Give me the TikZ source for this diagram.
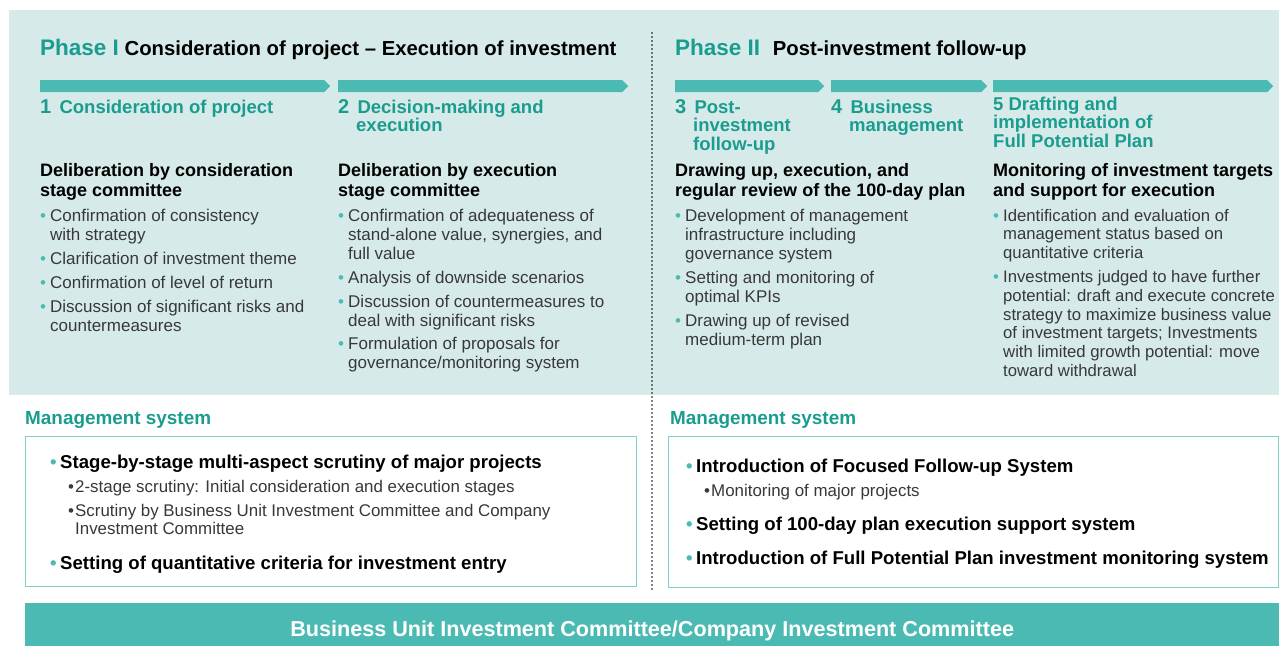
\documentclass[tikz,border=0pt]{standalone}
\usepackage{fontspec}
\setmainfont{Liberation Sans}
\usetikzlibrary{positioning, shapes.symbols, calc}

\definecolor{panelbg}{HTML}{D6EBE9}
\definecolor{barteal}{HTML}{4ABAB3}
\definecolor{headteal}{HTML}{1A9C8F}
\definecolor{bodygray}{HTML}{383838}
\definecolor{boxline}{HTML}{80CFC8}

\newcommand{\fs}[2]{\fontsize{#1}{#2}\selectfont}
\newcommand{\txtrows}[1]{\begin{tabular}[t]{@{}l@{}}#1\end{tabular}}
\newcommand{\tdot}{\makebox[10pt][l]{\textcolor{barteal}{\textbullet}}}
\newcommand{\tind}{\hspace*{10pt}}
\newcommand{\kdot}{\makebox[7pt][l]{\textbullet}}

\begin{document}
\begin{tikzpicture}[x=1pt, y=-1pt,
			% --- Styles ---
			phasehead/.style={anchor=base west, inner sep=0pt, font=\bfseries\fs{20.3}{22}},
			stagebar/.style={
				signal, signal to=east, signal pointer angle=90, fill=barteal, draw=none,
				inner sep=0pt, minimum height=12pt, anchor=north west
			},
			stephead/.style={anchor=base west, inner sep=0pt, text=headteal, font=\bfseries\fs{18.5}{18.5}},
			subhead/.style={anchor=base west, inner sep=0pt, font=\bfseries\fs{18}{20}},
			bodylist/.style={anchor=base west, inner sep=0pt, text=bodygray, font=\fs{17}{19}},
			mgmthead/.style={anchor=base west, inner sep=0pt, text=headteal, font=\bfseries\fs{18.9}{20}},
			mgmtbox/.style={draw=boxline, line width=1.2pt, fill=white, anchor=north west, inner sep=0pt},
			boldpoint/.style={anchor=base west, inner sep=0pt, font=\bfseries\fs{18.6}{20}},
			subpoint/.style={anchor=base west, inner sep=0pt, text=bodygray, font=\fs{16.9}{18}},
			divider/.style={line width=1.7pt, dash pattern=on 0pt off 4pt, line cap=round}
			]
			\useasboundingbox (0,0) rectangle (1279,645);
			
			% --- Panel background ---
			\fill[panelbg] (9,10) rectangle (1279,395);
			
			% --- Phase headings ---
			\node[phasehead] (phase1) at (40,55) {{\color{headteal}\fs{22.5}{22}Phase I} Consideration of project – Execution of investment};
			\node[phasehead] (phase2) at (675,55) {{\color{headteal}\fs{22.5}{22}Phase II}\hspace{7pt} Post-investment follow-up};
			
			% --- Stage bars ---
			\node[stagebar, minimum width=290pt] (bar1) at (40,80) {};
			\node[stagebar, minimum width=290pt] (bar2) at (338,80) {};
			\node[stagebar, minimum width=149pt] (bar3) at (675,80) {};
			\node[stagebar, minimum width=156pt] (bar4) at (831,80) {};
			\node[stagebar, minimum width=280pt] (bar5) at (993,80) {};
			
			% --- Stage titles ---
			\node[stephead] (step1) at (40,113) {{\fs{20}{20}1}\, Consideration of project};
			\node[stephead] (step2) at (338,113) {\txtrows{{\fs{20}{20}2}\, Decision-making and\\\hspace*{18pt}execution}};
			\node[stephead] (step3) at (675,113) {\txtrows{{\fs{20}{20}3}\, Post-\\\hspace*{18pt}investment\\\hspace*{18pt}follow-up}};
			\node[stephead] (step4) at (831,113) {\txtrows{{\fs{20}{20}4}\, Business\\\hspace*{18pt}management}};
			\node[stephead] (step5) at (993,110) {\txtrows{5 Drafting and\\implementation of\\Full Potential Plan}};
			
			% --- Committee headings ---
			\node[subhead] (delib1) at (40,176) {\txtrows{Deliberation by consideration\\stage committee}};
			\node[subhead] (delib2) at (338,176) {\txtrows{Deliberation by execution\\stage committee}};
			\node[subhead] (delib3) at (675,176) {\txtrows{Drawing up, execution, and\\regular review of the 100-day plan}};
			\node[subhead] (delib4) at (993,176) {\txtrows{Monitoring of investment targets\\and support for execution}};
			
			% --- Bullet lists ---
			\node[bodylist] (list1) at (40,221) {\txtrows{
				\tdot Confirmation of consistency\\
				\tind with strategy\\[5pt]
				\tdot Clarification of investment theme\\[5pt]
				\tdot Confirmation of level of return\\[5pt]
				\tdot Discussion of significant risks and\\
				\tind countermeasures}};
			\node[bodylist] (list2) at (338,221) {\txtrows{
				\tdot Confirmation of adequateness of\\
				\tind stand-alone value, synergies, and\\
				\tind full value\\[5pt]
				\tdot Analysis of downside scenarios\\[5pt]
				\tdot Discussion of countermeasures to\\
				\tind deal with significant risks\\[4pt]
				\tdot Formulation of proposals for\\
				\tind governance/monitoring system}};
			\node[bodylist] (list3) at (675,221) {\txtrows{
				\tdot Development of management\\
				\tind infrastructure including\\
				\tind governance system\\[5pt]
				\tdot Setting and monitoring of\\
				\tind optimal KPIs\\[5pt]
				\tdot Drawing up of revised\\
				\tind medium-term plan}};
			\node[bodylist, font=\fs{16.7}{18.8}] (list4) at (993,221) {\txtrows{
				\tdot Identification and evaluation of\\
				\tind management status based on\\
				\tind quantitative criteria\\[5pt]
				\tdot Investments judged to have further\\
				\tind potential: draft and execute concrete\\
				\tind strategy to maximize business value\\
				\tind of investment targets; Investments\\
				\tind with limited growth potential: move\\
				\tind toward withdrawal}};
			
			% --- Phase divider ---
			\coordinate (divtop) at (652,33);
			\coordinate (divbot) at (652,590);
			\draw[divider] (divtop) -- (divbot);
			
			% --- Management system, Phase I ---
			\node[mgmthead] (mgmt1) at (25,424) {Management system};
			\node[mgmtbox, minimum width=611pt, minimum height=150pt] (box1) at (25,436) {};
			\node[boldpoint] (pt1) at (50,468) {\tdot Stage-by-stage multi-aspect scrutiny of major projects};
			\node[subpoint] (pt1sub) at (68,492) {\txtrows{
				\kdot 2-stage scrutiny: Initial consideration and execution stages\\[6pt]
				\kdot Scrutiny by Business Unit Investment Committee and Company\\
				\hspace*{7pt}Investment Committee}};
			\node[boldpoint] (pt2) at (50,569) {\tdot Setting of quantitative criteria for investment entry};
			
			% --- Management system, Phase II ---
			\node[mgmthead] (mgmt2) at (670,424) {Management system};
			\node[mgmtbox, minimum width=610pt, minimum height=151pt] (box2) at (668,436) {};
			\node[boldpoint] (pt3) at (686,472) {\tdot Introduction of Focused Follow-up System};
			\node[subpoint] (pt3sub) at (704,496) {\kdot Monitoring of major projects};
			\node[boldpoint] (pt4) at (686,530) {\tdot Setting of 100-day plan execution support system};
			\node[boldpoint] (pt5) at (686,564) {\tdot Introduction of Full Potential Plan investment monitoring system};
			
			% --- Committee bar ---
			\node[fill=barteal, anchor=north west, inner sep=0pt, minimum width=1254pt, minimum height=56pt,
			text=white, font=\bfseries\fs{21.6}{22}] (committee) at (25,603)
			{Business Unit Investment Committee/Company Investment Committee};
			
		\end{tikzpicture}
\end{document}
